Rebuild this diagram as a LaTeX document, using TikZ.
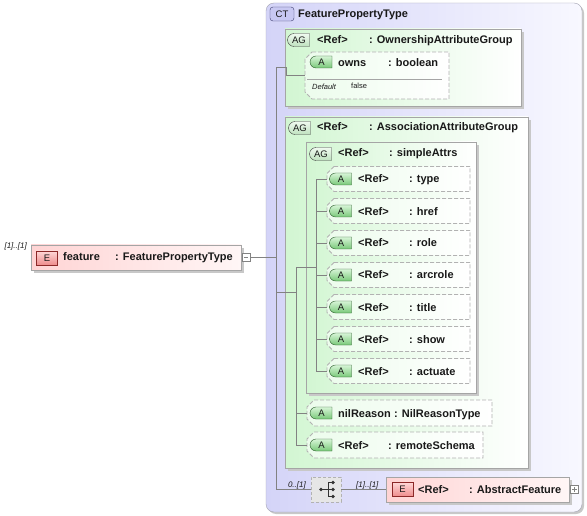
\documentclass[tikz,border=0pt]{standalone}
\usepackage{fontspec}
\setmainfont{Liberation Sans}
\usetikzlibrary{shapes.misc,shadows}
\definecolor{ctleft}{RGB}{212,212,248}
\definecolor{ctright}{RGB}{248,248,255}
\definecolor{ctborder}{RGB}{165,165,180}
\definecolor{agleft}{RGB}{210,246,210}
\definecolor{boxborder}{RGB}{165,165,165}
\definecolor{shadowc}{RGB}{200,200,200}
\definecolor{attrleft}{RGB}{236,252,236}
\definecolor{dashc}{RGB}{178,178,178}
\definecolor{abadgetop}{RGB}{215,245,215}
\definecolor{abadgebot}{RGB}{120,200,120}
\definecolor{abadgedraw}{RGB}{40,90,40}
\definecolor{agbadgetop}{RGB}{240,250,240}
\definecolor{agbadgebot}{RGB}{190,225,190}
\definecolor{agbadgedraw}{RGB}{60,60,60}
\definecolor{ctbadgefill}{RGB}{200,200,242}
\definecolor{ctbadgedraw}{RGB}{60,60,110}
\definecolor{ebadgetop}{RGB}{255,215,215}
\definecolor{ebadgebot}{RGB}{238,140,140}
\definecolor{ebadgedraw}{RGB}{140,40,40}
\definecolor{elleft}{RGB}{255,212,212}
\definecolor{elright}{RGB}{255,246,246}
\definecolor{linec}{RGB}{130,130,130}
\definecolor{compfill}{RGB}{230,230,230}
\definecolor{txt}{RGB}{25,25,25}
\tikzset{
  box/.style={rectangle, inner sep=0pt, outer sep=0pt},
  ctbox/.style={box, draw=ctborder, left color=ctleft, right color=ctright, rounded corners=8pt,
    general shadow={fill=shadowc, shadow xshift=2pt, shadow yshift=-2pt}},
  agbox/.style={box, draw=boxborder, left color=agleft, right color=white,
    general shadow={fill=shadowc, shadow xshift=3pt, shadow yshift=-3pt}},
  attr/.style={box},
  attrpath/.style={draw=dashc, dashed, dash pattern=on 4pt off 2pt, left color=attrleft,
    right color=white, line width=0.8pt},
  elbox/.style={box, draw=boxborder, left color=elleft, right color=elright,
    general shadow={fill=shadowc, shadow xshift=3pt, shadow yshift=-3pt}},
  compbox/.style={box, draw=dashc, dashed, dash pattern=on 3pt off 2pt, fill=compfill},
  badgefont/.style={font=\fontsize{9.5}{10}\selectfont, text=txt},
  abadge/.style={rounded rectangle, rounded rectangle right arc=none, draw=abadgedraw,
    top color=abadgetop, bottom color=abadgebot, minimum width=22pt, minimum height=12pt,
    inner sep=0pt, badgefont},
  agbadge/.style={rounded rectangle, rounded rectangle right arc=none, draw=agbadgedraw,
    top color=agbadgetop, bottom color=agbadgebot, minimum width=22pt, minimum height=13pt,
    inner sep=0pt, badgefont},
  ctbadge/.style={box, rounded corners=3pt, draw=ctbadgedraw, fill=ctbadgefill,
    minimum width=24pt, minimum height=14pt, badgefont},
  ebadge/.style={box, draw=ebadgedraw, top color=ebadgetop, bottom color=ebadgebot,
    minimum width=21pt, minimum height=14pt, badgefont},
  lbl/.style={font=\fontsize{11}{13}\selectfont\bfseries, text=txt, text height=8pt,
    text depth=0pt, inner sep=0pt, anchor=west},
  mult/.style={font=\fontsize{8}{9}\selectfont\itshape, text=txt, text height=6pt,
    text depth=0pt, inner sep=0pt},
  deflbl/.style={font=\fontsize{7.5}{9}\selectfont, text=txt, text height=5.5pt,
    text depth=0pt, inner sep=0pt, anchor=west},
  conn/.style={draw=linec, line width=0.8pt},
  pmbox/.style={box, draw=linec, fill=white, minimum size=8pt},
}
\newcommand\attrshape[1]{%
  \path[attrpath] ([xshift=7pt]#1.north west) -- (#1.north east) -- (#1.south east)
    -- ([xshift=7pt]#1.south west) -- ([yshift=7pt]#1.south west)
    -- ([yshift=-7pt]#1.north west) -- cycle;}
\begin{document}
\begin{tikzpicture}[x=1pt,y=-1pt]
\useasboundingbox[fill=white] (0,0) rectangle (587,516);

% complex type container
\node[ctbox, minimum width=316pt, minimum height=509pt] (ct) at (424,257.5) {};
\node[ctbadge] (ctb) at (282,14) {CT};
\node[lbl] (tct) at (298,14) {FeaturePropertyType};

% attribute group: ownership
\node[agbox, minimum width=236pt, minimum height=77pt] (ag1) at (403,67.5) {};
\node[agbadge] (ag1b) at (299,40) {AG};
\node[lbl] (ag1r) at (317,40) {<Ref>};
\node[lbl] (ag1t) at (369,40) {: OwnershipAttributeGroup};

\node[attr, minimum width=144pt, minimum height=47pt] (owns) at (377,75.5) {};
\attrshape{owns}
\node[abadge] (ownsb) at (321.5,62) {A};
\node[lbl] (ownsn) at (338,63) {owns};
\node[lbl] (ownst) at (388,63) {: boolean};
\coordinate (sepl) at (307,79);
\coordinate (sepr) at (442,79);
\draw[draw=boxborder, line width=0.8pt] (sepl) -- (sepr);
\node[deflbl, font=\fontsize{7.5}{9}\selectfont\itshape] (defk) at (312,86.5) {Default};
\node[deflbl] (defv) at (351,86) {false};

% attribute group: association
\node[agbox, minimum width=243pt, minimum height=351pt] (ag2) at (406.5,292.5) {};
\node[agbadge] (ag2b) at (300,128) {AG};
\node[lbl] (ag2r) at (317,127) {<Ref>};
\node[lbl] (ag2t) at (369,127) {: AssociationAttributeGroup};

% attribute group: simpleAttrs
\node[agbox, minimum width=170pt, minimum height=251pt] (sa) at (391,267.5) {};
\node[agbadge] (sab) at (321,154) {AG};
\node[lbl] (sar) at (338,153) {<Ref>};
\node[lbl] (sat) at (389,153) {: simpleAttrs};

\foreach \n/\cy/\t in {1/179/type, 2/211/href, 3/243/role, 4/275/arcrole, 5/307/title, 6/339/show, 7/371/actuate}{
  \node[attr, minimum width=143pt, minimum height=25pt] (at\n) at (398.5,\cy) {};
  \attrshape{at\n}
  \node[abadge] (at\n b) at (341,\cy) {A};
  \node[lbl] (at\n r) at (358,\cy) {<Ref>};
  \node[lbl] (at\n t) at (409,\cy) {: \t};
}

\node[attr, minimum width=185pt, minimum height=26pt] (nil) at (399.5,413) {};
\attrshape{nil}
\node[abadge] (nilb) at (321.5,413) {A};
\node[lbl] (niln) at (338,413) {nilReason};
\node[lbl] (nilt) at (394,413) {: NilReasonType};

\node[attr, minimum width=176pt, minimum height=26pt] (rem) at (395,445) {};
\attrshape{rem}
\node[abadge] (remb) at (321.5,445) {A};
\node[lbl] (remr) at (338,445) {<Ref>};
\node[lbl] (remt) at (388,445) {: remoteSchema};

% sequence compositor
\node[compbox, minimum width=30pt, minimum height=25pt] (comp) at (326,489.5) {};
\coordinate (cdl) at (321,489.5);
\coordinate (cbar) at (328,489.5);
\coordinate (cbt) at (328,482.5);
\coordinate (cbb) at (328,496.5);
\coordinate (cd1) at (333,482.5);
\coordinate (cd2) at (333,489.5);
\coordinate (cd3) at (333,496.5);
\draw[draw=black!80, line width=0.8pt] (cdl) -- (cbar) (cbt) -- (cbb) (cbt) -- (cd1) (cbar) -- (cd2) (cbb) -- (cd3);
\fill[black!80] (cdl) circle (1.9pt) (cd1) circle (1.8pt) (cd2) circle (1.8pt) (cd3) circle (1.8pt);
\node[mult, anchor=east] (m0) at (306,484) {0..[1]};
\node[mult, anchor=west] (m1) at (356,484) {[1]..[1]};

% abstract feature element
\node[elbox, minimum width=183pt, minimum height=25pt] (abs) at (477.5,489.5) {};
\node[ebadge] (absb) at (402.5,489.5) {E};
\node[lbl] (absr) at (418,489) {<Ref>};
\node[lbl] (abst) at (469,489) {: AbstractFeature};
\node[pmbox] (plus) at (574.5,489.5) {};
\draw[draw=linec] ([xshift=1.8pt]plus.west) -- ([xshift=-1.8pt]plus.east)
                  ([yshift=-1.8pt]plus.north) -- ([yshift=1.8pt]plus.south);

% feature element
\node[elbox, minimum width=210pt, minimum height=25pt] (feat) at (136,257.5) {};
\node[ebadge] (featb) at (47,258) {E};
\node[lbl] (featn) at (63,257) {feature};
\node[lbl] (featt) at (115,257) {: FeaturePropertyType};
\node[mult, anchor=east] (mf) at (27,245) {[1]..[1]};
\node[pmbox] (minus) at (246,257.5) {};
\draw[draw=linec] ([xshift=1.8pt]minus.west) -- ([xshift=-1.8pt]minus.east);

% connectors
\coordinate (t1) at (276,67.5);
\coordinate (tm) at (276,257.5);
\coordinate (tb) at (276,489.5);
\coordinate (o1) at (286,67.5);
\coordinate (a2) at (296,292.5);
\coordinate (a2t) at (296,267.5);
\coordinate (a2b) at (296,445);
\coordinate (s0) at (316,267.5);
\coordinate (s1) at (316,179);
\coordinate (s7) at (316,371);
\draw[conn] (minus.east) -- (tm);
\draw[conn] (t1) -- (tb);
\draw[conn] (t1) -- (o1) |- (owns.west);
\draw[conn] (ag2.west -| t1) -- (a2);
\draw[conn] (a2t) -- (a2b);
\draw[conn] (a2t) -- (s0);
\draw[conn] (nil.west -| a2t) -- (nil.west);
\draw[conn] (rem.west -| a2t) -- (rem.west);
\draw[conn] (s1) -- (s7);
\foreach \n in {1,...,7}{ \draw[conn] (at\n.west -| s1) -- (at\n.west); }
\draw[conn] (tb) -- (comp.west);
\draw[conn] (comp.east) -- (abs.west);
\end{tikzpicture}
\end{document}
